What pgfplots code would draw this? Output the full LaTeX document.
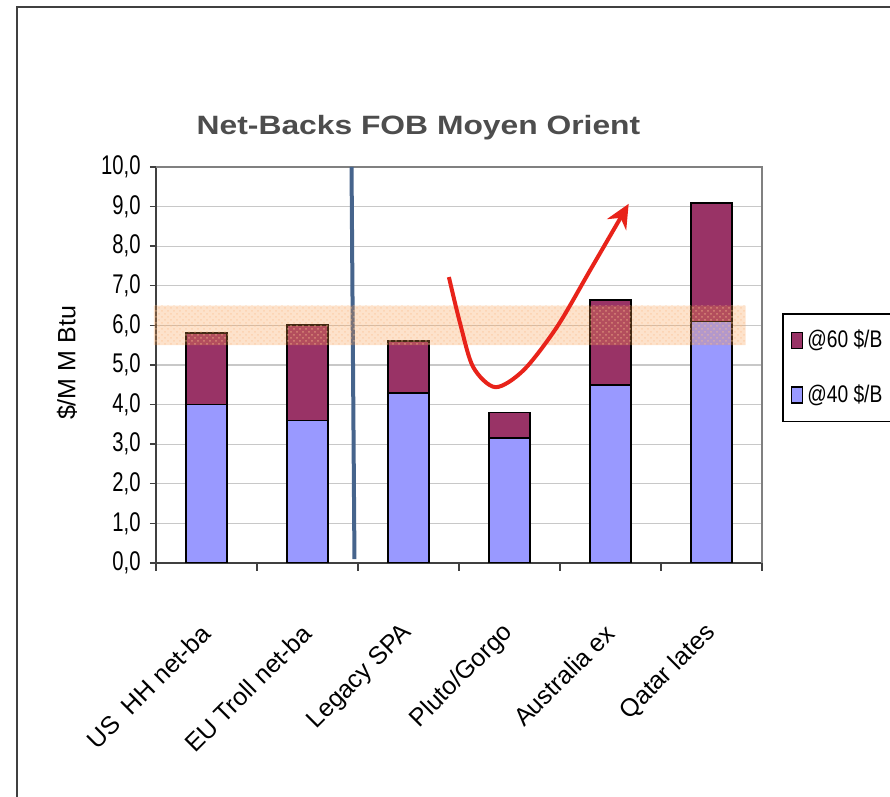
\documentclass[border=0pt]{standalone}
\usepackage{fontspec}
\setmainfont{Liberation Sans}
\newfontfamily\ticksfont[FakeStretch=0.75]{Liberation Sans}
\newfontfamily\titlefont[FakeStretch=1.2]{Liberation Sans}
\newfontfamily\legfont[FakeStretch=0.8]{Liberation Sans}
\usepackage{pgfplots}
\usepackage{pgfplotstable}
\pgfplotsset{compat=1.18}
\usetikzlibrary{arrows.meta,patterns}

\definecolor{barblue}{RGB}{153,153,255}
\definecolor{barmaroon}{RGB}{153,51,102}
\definecolor{bandorange}{RGB}{247,150,70}
\definecolor{lineblue}{RGB}{70,100,140}
\definecolor{arrowred}{RGB}{232,35,26}
\definecolor{titlegray}{RGB}{77,77,77}
\definecolor{gridgray}{RGB}{200,200,200}
\definecolor{axisdark}{RGB}{64,64,64}

\pgfplotstableread{
x base top
0 4.0 1.8
1 3.6 2.4
2 4.3 1.3
3 3.15 0.65
4 4.5 2.15
5 6.1 3.0
}\netbacks

\begin{document}
\begin{tikzpicture}
\path[use as bounding box] (0,0) rectangle (445pt,398.5pt);
\draw[axisdark, line width=1pt] (8.5pt,-2pt) -- (8.5pt,395pt) -- (450pt,395pt);

\begin{axis}[
  at={(78pt,117pt)}, anchor=south west,
  scale only axis, width=303pt, height=198pt,
  xmin=-0.5, xmax=5.5, ymin=0, ymax=10,
  ybar stacked, bar width=20.5pt,
  axis x line*=bottom, axis y line*=left,
  axis line style={-, draw=axisdark, line width=0.8pt},
  ytick={0,1,...,10},
  ymajorgrids, grid style={draw=gridgray, line width=0.6pt},
  tick align=outside, major tick length=3pt,
  y tick style={draw=axisdark, line width=0.7pt},
  yticklabel style={font=\ticksfont\fontsize{13.5}{13.5}\selectfont, anchor=east, inner sep=0pt, xshift=-4.5pt,
     /pgf/number format/.cd, fixed, fixed zerofill, precision=1, use comma, assume math mode=true},
  xtick={0,1,2,3,4,5},
  xticklabels={US\ \ HH net-ba, EU Troll net-ba, Legacy SPA, Pluto/Gorgo, Australia ex, Qatar lates},
  major x tick style={draw=none},
  minor xtick={-0.5,0.5,...,5.5},
  minor x tick style={draw=axisdark, line width=0.7pt},
  minor tick length=4pt,
  xticklabel style={font=\fontsize{12.5}{12.5}\selectfont, rotate=45, anchor=east, inner sep=0pt},
  xticklabel shift=30pt,
  legend style={at={(rel axis cs:1.033,0.631)}, anchor=north west, draw=black, line width=0.8pt,
     font=\legfont\fontsize{12}{12}\selectfont, row sep=13pt, inner xsep=4pt, inner ysep=6pt},
  reverse legend,
  legend image code/.code={\draw[#1, draw=black, line width=0.8pt] (0pt,-4pt) rectangle (5.5pt,4pt);},
  after end axis/.code={
    \draw[gray, line width=0.8pt] (rel axis cs:0,1) -- (rel axis cs:1,1) -- (rel axis cs:1,0);
  },
]
\addplot[fill=barblue, draw=black, line width=0.9pt] table[x=x, y=base] {\netbacks};
\addlegendentry{@40 \$/B}
\addplot[fill=barmaroon, draw=black, line width=0.9pt] table[x=x, y=top] {\netbacks};
\addlegendentry{@60 \$/B}
\end{axis}

\begin{axis}[
  at={(78pt,117pt)}, anchor=south west,
  scale only axis, width=303pt, height=198pt,
  xmin=-0.5, xmax=5.5, ymin=0, ymax=10,
  hide axis, clip=false,
]
\addplot[lineblue, line width=2pt, line cap=butt] coordinates {(1.436,10) (1.465,0.1)};
\addplot[fill=bandorange, fill opacity=0.28, draw=none] coordinates {(-0.52,5.5) (5.337,5.5) (5.337,6.5) (-0.52,6.5) (-0.52,5.5)};
\addplot[pattern=crosshatch dots, pattern color=bandorange!60, draw=none, opacity=0.5] coordinates {(-0.52,5.5) (5.337,5.5) (5.337,6.5) (-0.52,6.5) (-0.52,5.5)};
\addplot[arrowred, line width=2pt, smooth, -{Stealth[length=12pt,width=11pt]}] coordinates {(2.40,7.22) (2.51,6.06) (2.64,4.95) (2.86,4.44) (3.14,4.87) (3.47,5.96) (3.80,7.4) (4.18,9.07)};
\end{axis}

\node[rotate=90, font=\fontsize{12.5}{12.5}\selectfont] at (33.5pt,217pt) {\$/M M Btu};
\node[anchor=base, font=\titlefont\bfseries\fontsize{13.25}{14}\selectfont, text=titlegray] at (209.25pt,331pt) {Net-Backs FOB Moyen Orient};
\end{tikzpicture}
\end{document}
